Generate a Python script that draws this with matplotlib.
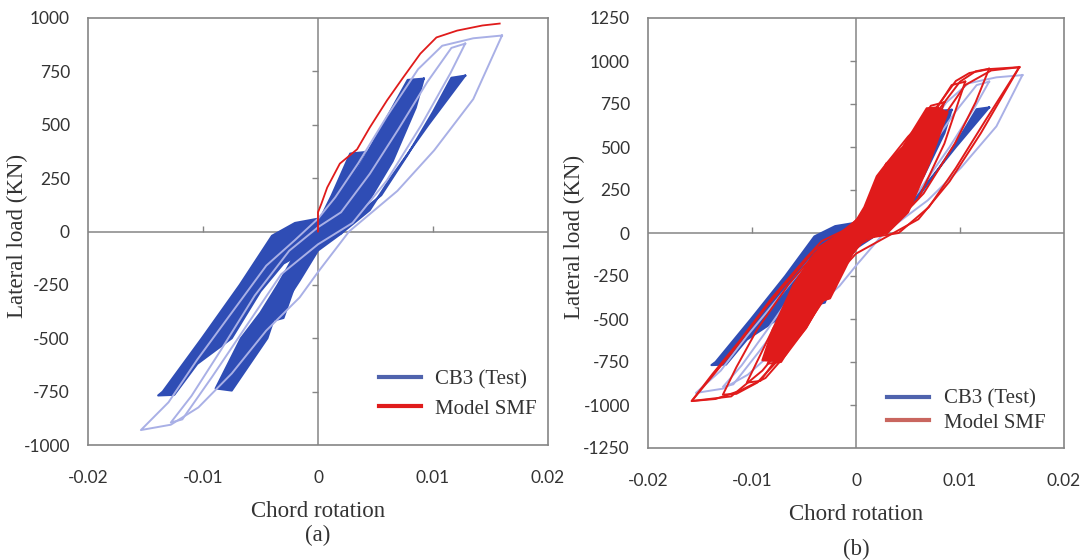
import numpy as np
import matplotlib
matplotlib.use("Agg")
import matplotlib.pyplot as plt
from matplotlib.lines import Line2D

# CB3 test loops (chord rotation, lateral load in kN)
# dense repeated cycles, drawn filled
test_dense_x = [
    [0.0041, 0.0028, 0.0012, 0.0000, -0.0012, -0.0025, -0.0037, -0.0030, -0.0018, -0.0005, 0.0008, 0.0022, 0.0041],
    [0.0092, 0.0078, 0.0045, 0.0025, 0.0010, 0.0000, -0.0015, -0.0035, -0.0050, -0.0067, -0.0089, -0.0075,
     -0.0044, -0.0039, -0.0016, 0.0000, 0.0020, 0.0045, 0.0065, 0.0085, 0.0092],
    [0.0128, 0.0116, 0.0100, 0.0078, 0.0055, 0.0030, 0.0000, -0.0020, -0.0040, -0.0068, -0.0101, -0.0135,
     -0.0139, -0.0125, -0.0105, -0.0075, -0.0050, -0.0030, 0.0000, 0.0020, 0.0045, 0.0063, 0.0096, 0.0128],
]
test_dense_y = [
    [372, 365, 170, 40, -60, -200, -415, -405, -220, -70, 40, 180, 372],
    [716, 710, 390, 200, 80, 20, -60, -250, -380, -500, -735, -745, -500, -420, -230, -89, -10, 150, 330, 580, 716],
    [730, 720, 560, 360, 170, 60, 60, 40, -20, -250, -500, -750, -768, -765, -620, -500, -280, -150, -60, -10,
     100, 250, 500, 730],
]
# single cycles, drawn as thin light lines
test_thin_x = [
    [0.0128, 0.0116, 0.0095, 0.0070, 0.0045, 0.0020, 0.0000, -0.0025, -0.0055, -0.0085, -0.0110, -0.0128,
     -0.0118, -0.0092, -0.0062, -0.0032, 0.0000, 0.0030, 0.0060, 0.0090, 0.0115, 0.0128],
    [0.0160, 0.0135, 0.0108, 0.0087, 0.0060, 0.0035, 0.0015, 0.0000, -0.0020, -0.0045, -0.0075, -0.0105,
     -0.0130, -0.0154, -0.0128, -0.0104, -0.0075, -0.0045, -0.0016, 0.0000, 0.0027, 0.0069, 0.0101, 0.0135, 0.0160],
]
test_thin_y = [
    [880, 860, 700, 480, 270, 90, 20, -90, -300, -560, -770, -895, -880, -680, -440, -200, -60, 40, 240, 500, 740, 880],
    [918, 905, 870, 760, 540, 320, 160, 60, -40, -160, -380, -600, -800, -930, -905, -824, -665, -464, -309,
     -190, 0, 190, 380, 620, 918],
]

# Model SMF monotonic envelope for (a)
env_x = [0.0, 0.0, 0.0003, 0.0008, 0.0019, 0.0034, 0.0045, 0.0060, 0.0074, 0.0089, 0.0103, 0.0121, 0.0143, 0.0158]
env_y = [0, 90, 131, 206, 318, 385, 487, 614, 721, 833, 909, 941, 965, 974]

# Model SMF cyclic loops for (b)
model_dense_x = [
    [0.0078, 0.0068, 0.0045, 0.0029, 0.0015, 0.0003, -0.0015, -0.0040, -0.0060, -0.0080, -0.0090, -0.0074,
     -0.0048, -0.0033, -0.0016, -0.0007, 0.0010, 0.0030, 0.0050, 0.0070, 0.0088, 0.0078],
    [0.0029, 0.0020, 0.0008, -0.0005, -0.0015, -0.0033, -0.0025, -0.0010, 0.0003, 0.0015, 0.0029],
]
model_dense_y = [
    [730, 725, 500, 401, 203, 87, 0, -120, -300, -560, -740, -745, -552, -395, -240, -105, -30, 0, 120, 400, 700, 730],
    [401, 330, 150, 20, -100, -395, -380, -200, -40, 150, 401],
]
model_thin_x = [
    [0.0085, 0.0072, 0.0052, 0.0030, 0.0010, -0.0010, -0.0035, -0.0060, -0.0085,
     -0.0072, -0.0050, -0.0028, -0.0005, 0.0020, 0.0045, 0.0068, 0.0085],
    [0.0105, 0.0092, 0.0075, 0.0050, 0.0025, 0.0005, -0.0020, -0.0050, -0.0080, -0.0105,
     -0.0092, -0.0070, -0.0045, -0.0020, 0.0005, 0.0030, 0.0060, 0.0085, 0.0105],
    [0.0128, 0.0115, 0.0100, 0.0085, 0.0065, 0.0040, 0.0020, 0.0005, -0.0010, -0.0035, -0.0065, -0.0095, -0.0115,
     -0.0128, -0.0115, -0.0095, -0.0075, -0.0050, -0.0030, -0.0010, 0.0010, 0.0035, 0.0065, 0.0095, 0.0115, 0.0128],
    [0.0157, 0.0130, 0.0105, 0.0080, 0.0050, 0.0020, -0.0005, -0.0040, -0.0085, -0.0120, -0.0158,
     -0.0120, -0.0090, -0.0060, -0.0030, 0.0000, 0.0030, 0.0060, 0.0090, 0.0120, 0.0157],
    [0.0157, 0.0128, 0.0109, 0.0096, 0.0077, 0.0050, 0.0029, 0.0015, 0.0003, -0.0010, -0.0033, -0.0048, -0.0081,
     -0.0112, -0.0138, -0.0158, -0.0135, -0.0112, -0.0087, -0.0067, -0.0048, -0.0033, -0.0016, -0.0007, 0.0010,
     0.0041, 0.0070, 0.0096, 0.0125, 0.0157],
]
model_thin_y = [
    [760, 740, 560, 340, 130, -10, -160, -400, -760, -750, -540, -320, -110, 40, 230, 480, 760],
    [880, 860, 700, 480, 260, 90, -40, -250, -560, -870, -860, -680, -460, -240, -60, 20, 200, 520, 880],
    [955, 940, 880, 760, 600, 410, 230, 90, 10, -90, -300, -560, -780, -940, -935, -870, -740, -560, -380, -170,
     -20, 40, 230, 520, 760, 955],
    [964, 945, 860, 640, 420, 200, 40, -100, -420, -700, -977, -950, -800, -580, -320, -120, -20, 80, 300, 580, 964],
    [964, 953, 930, 884, 727, 560, 401, 203, 87, 20, -47, -145, -378, -628, -820, -977, -965, -918, -843, -705,
     -552, -395, -240, -105, -30, 0, 150, 378, 660, 964],
]

xticks = [-0.02, -0.01, 0, 0.01, 0.02]
yticks_a = [-1000, -750, -500, -250, 0, 250, 500, 750, 1000]
yticks_b = [-1250, -1000, -750, -500, -250, 0, 250, 500, 750, 1000, 1250]

BLUE = "#2f4db5"
BLUE_LIGHT = "#a9b0e6"
RED = "#e01b1b"
GREY = "#858585"
TEXT = "#333333"
TICK_FONT = "Lato"
SERIF = "Liberation Serif"


def tick_label(v):
    return "0" if v == 0 else ("%g" % v)


def setup_axes(ax, yticks, ylab_x):
    ax.set_xlim(xticks[0], xticks[-1])
    ax.set_ylim(yticks[0], yticks[-1])
    ax.set_xticks(xticks)
    ax.set_xticklabels([tick_label(v) for v in xticks], fontfamily=TICK_FONT, fontsize=12.5)
    ax.set_yticks(yticks)
    ax.set_yticklabels([tick_label(v) for v in yticks], fontfamily=TICK_FONT, fontsize=12.5)
    ax.tick_params(axis="x", length=0, pad=18, colors=TEXT)
    ax.tick_params(axis="y", length=0, pad=13, colors=TEXT)
    for s in ax.spines.values():
        s.set_color(GREY)
        s.set_linewidth(1.2)
    # axes through the origin with small tick marks
    ax.axhline(0, color=GREY, lw=1.1, zorder=1)
    ax.axvline(0, color=GREY, lw=1.1, zorder=1)
    ax.plot([0] * len(yticks[1:-1]), yticks[1:-1], ls="", marker=0, ms=4, mew=1, color=GREY, zorder=1)
    ax.plot(xticks[1:-1], [0] * len(xticks[1:-1]), ls="", marker=2, ms=4, mew=1, color=GREY, zorder=1)
    ax.set_ylabel("Lateral load (KN)", fontfamily=SERIF, fontsize=16.5, color=TEXT)
    ax.yaxis.set_label_coords(ylab_x, 0.49)
    ax.set_xlabel("Chord rotation", fontfamily=SERIF, fontsize=16.5, color=TEXT, labelpad=11)


def draw_test(ax):
    for xs, ys in zip(test_dense_x, test_dense_y):
        ax.fill(xs, ys, color=BLUE, lw=0, zorder=2)
        ax.plot(xs, ys, color=BLUE, lw=1.5, zorder=2)
    for xs, ys in zip(test_thin_x, test_thin_y):
        ax.plot(xs, ys, color=BLUE_LIGHT, lw=1.4, zorder=3)


def add_legend(ax, anchor, red_color, spacing):
    handles = [Line2D([], [], color="#4f63ad", lw=3),
               Line2D([], [], color=red_color, lw=3)]
    ax.legend(handles, ["CB3 (Test)", "Model SMF"], loc="lower right", bbox_to_anchor=anchor,
              frameon=False, prop={"family": SERIF, "size": 15}, handlelength=2.0,
              handletextpad=0.7, labelspacing=spacing, labelcolor=TEXT)


fig = plt.figure(figsize=(10.85, 5.6), dpi=100)
ax1 = fig.add_axes([88 / 1085, 1 - 445 / 560, 460 / 1085, 427 / 560])
ax2 = fig.add_axes([648 / 1085, 1 - 448 / 560, 416 / 1085, 430 / 560])

# (a) test loops with monotonic model envelope
setup_axes(ax1, yticks_a, -0.13)
draw_test(ax1)
ax1.plot(env_x, env_y, color=RED, lw=1.3, zorder=4)
add_legend(ax1, (1.017, 0.018), RED, 0.45)
ax1.text(0.5, -0.211, "(a)", transform=ax1.transAxes, ha="center", va="center",
         fontfamily=SERIF, fontsize=16.5, color=TEXT)

# (b) test loops with cyclic model
setup_axes(ax2, yticks_b, -0.151)
draw_test(ax2)
for xs, ys in zip(model_dense_x, model_dense_y):
    ax2.fill(xs, ys, color=RED, lw=0, zorder=4)
    ax2.plot(xs, ys, color=RED, lw=1.5, zorder=4)
for xs, ys in zip(model_thin_x, model_thin_y):
    ax2.plot(xs, ys, color=RED, lw=1.4, zorder=5)
add_legend(ax2, (1.0, -0.008), "#c9665f", 0.2)
ax2.text(0.5, -0.237, "(b)", transform=ax2.transAxes, ha="center", va="center",
         fontfamily=SERIF, fontsize=16.5, color=TEXT)

fig.savefig("out.png", dpi=100)
